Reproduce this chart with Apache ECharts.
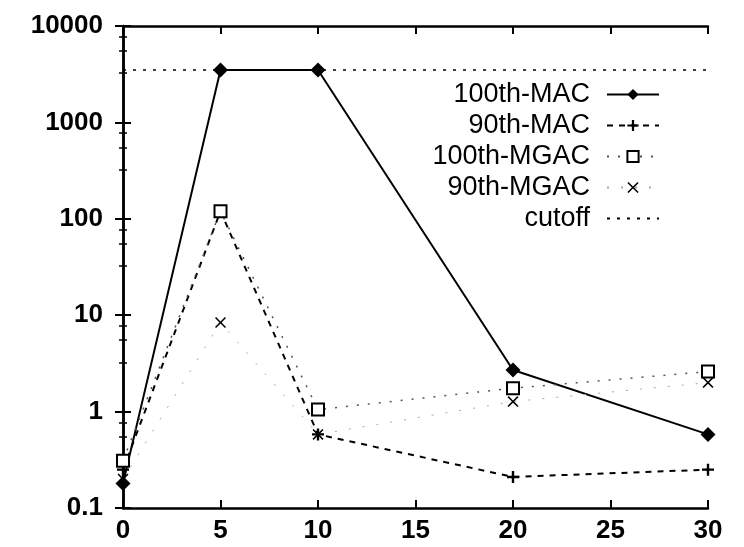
<!DOCTYPE html>
<html>
<head>
<meta charset="utf-8">
<title>MAC vs MGAC</title>
<script src="https://cdn.jsdelivr.net/npm/echarts@6/dist/echarts.min.js"></script>
<style>
  html, body { margin: 0; padding: 0; background: #fff; }
  #chart { width: 744px; height: 547px; }
</style>
</head>
<body>
<div id="chart"></div>
<script type="text/javascript">
// x positions and series values
var xs = [0, 5, 10, 20, 30];
var mac100 = [0.18, 3500, 3500, 2.7, 0.58];
var mac90 = [0.25, 120, 0.58, 0.21, 0.25];
var mgac100 = [0.31, 120, 1.05, 1.75, 2.6];
var mgac90 = [0.2, 8.4, 0.58, 1.27, 2.0];
var cutoffX = [0, 30];
var cutoffVal = 3500;
var names = ['100th-MAC', '90th-MAC', '100th-MGAC', '90th-MGAC', 'cutoff'];

function pairs(x, y) {
    var out = [];
    for (var i = 0; i < x.length; i++) out.push([x[i], y[i]]);
    return out;
}

var PLUS = 'path://M4,0H6V4H10V6H6V10H4V6H0V4H4Z';
var CROSS = 'path://M1,0L5,4L9,0L10,1L6,5L10,9L9,10L5,6L1,10L0,9L4,5L0,1Z';
var font = 'Liberation Sans';

var myChart = echarts.init(document.getElementById('chart'));

var tickStyle = { show: true, inside: true, length: 8, lineStyle: { color: '#000', width: 2 } };
var lineAx = { show: true, lineStyle: { color: '#000', width: 2.5 } };
var minorStyle = { show: true, splitNumber: 4, length: 4, lineStyle: { color: '#000', width: 1.5 } };

var option = {
    backgroundColor: '#fff',
    animation: false,
    grid: { left: 123, right: 36, top: 26, bottom: 39, show: false },
    legend: {
        orient: 'vertical',
        right: 79,
        top: 76,
        align: 'right',
        itemWidth: 52,
        itemHeight: 14,
        itemGap: 4,
        data: names,
        textStyle: { fontFamily: font, fontSize: 27, lineHeight: 27, color: '#000', padding: [0, 12, 0, 0] }
    },
    xAxis: [
        {
            type: 'value', min: 0, max: 30, interval: 5,
            axisLine: lineAx, axisTick: tickStyle, splitLine: { show: false },
            axisLabel: { fontFamily: font, fontSize: 26, fontWeight: 'bold', color: '#000', margin: 10 }
        },
        {
            type: 'value', min: 0, max: 30, interval: 5, position: 'top',
            axisLine: lineAx, axisTick: tickStyle, splitLine: { show: false },
            axisLabel: { show: false }
        }
    ],
    yAxis: [
        {
            type: 'log', logBase: 10, min: 0.1, max: 10000,
            axisLine: lineAx, axisTick: tickStyle, splitLine: { show: false },
            minorTick: minorStyle,
            axisLabel: {
                fontFamily: font, fontSize: 26, fontWeight: 'bold', color: '#000', margin: 20,
                formatter: function (v) { return v < 1 ? v.toFixed(1) : String(Math.round(v)); }
            }
        },
        {
            type: 'log', logBase: 10, min: 0.1, max: 10000, position: 'right',
            axisLine: lineAx, axisTick: tickStyle, splitLine: { show: false },
            minorTick: minorStyle,
            axisLabel: { show: false }
        }
    ],
    series: [
        {
            name: names[0], type: 'line', data: pairs(xs, mac100),
            symbol: 'diamond', symbolSize: 15,
            itemStyle: { color: '#000' },
            lineStyle: { color: '#000', width: 2 }
        },
        {
            name: names[1], type: 'line', data: pairs(xs, mac90),
            symbol: PLUS, symbolSize: 12,
            itemStyle: { color: '#000' },
            lineStyle: { color: '#000', width: 2, type: [6, 6] }
        },
        {
            name: names[2], type: 'line', data: pairs(xs, mgac100),
            symbol: 'emptyRect', symbolSize: 12,
            itemStyle: { color: '#000', borderWidth: 2.5 },
            lineStyle: { color: '#555', width: 1.5, type: [2, 9] }
        },
        {
            name: names[3], type: 'line', data: pairs(xs, mgac90),
            symbol: CROSS, symbolSize: 11,
            itemStyle: { color: '#000' },
            lineStyle: { color: '#aaa', width: 1, type: [2, 12] }
        },
        {
            name: names[4], type: 'line',
            data: pairs(cutoffX, [cutoffVal, cutoffVal]),
            symbol: 'none',
            itemStyle: { color: '#000', opacity: 0 },
            lineStyle: { color: '#000', width: 1.5, type: [3, 7] }
        }
    ]
};

myChart.setOption(option);
</script>
</body>
</html>
